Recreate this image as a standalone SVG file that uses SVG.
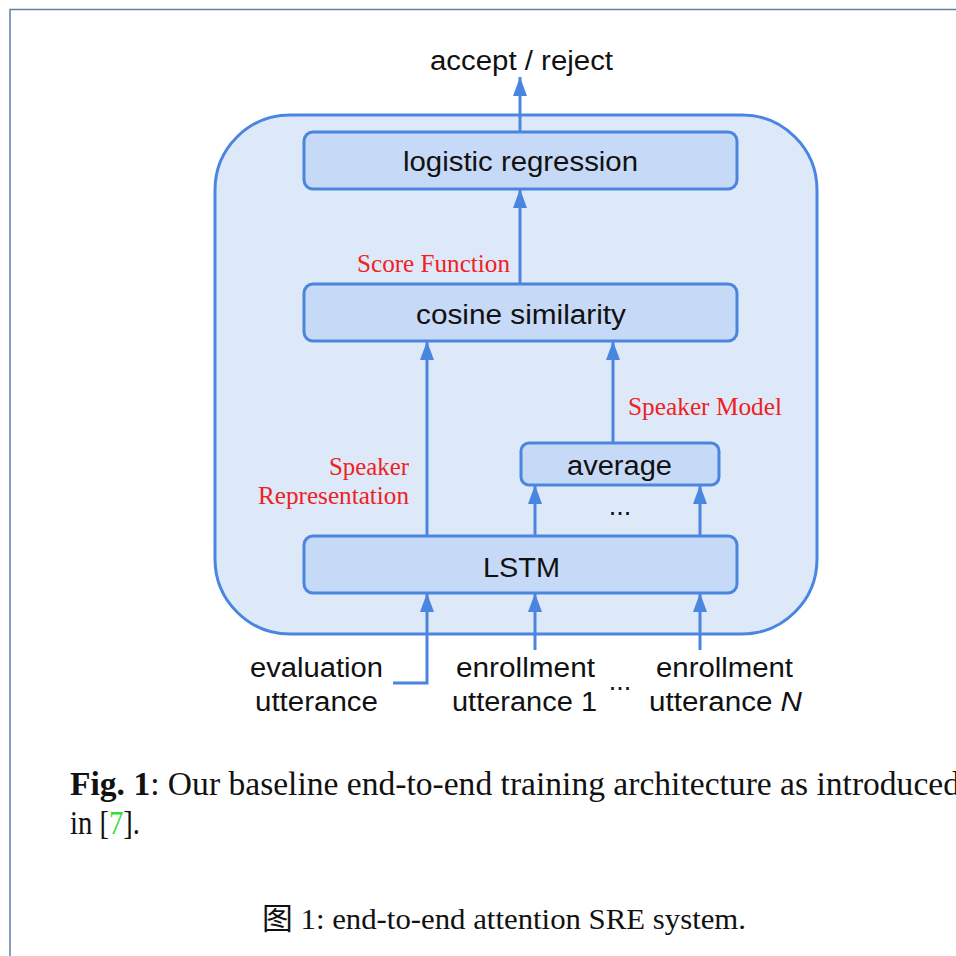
<svg xmlns="http://www.w3.org/2000/svg" width="956" height="956" viewBox="0 0 956 956">
<defs>
<style>
.box{fill:#c6d9f6;stroke:#4a86e0;stroke-width:3}
.lbl{font-family:"Liberation Sans",Arial,sans-serif;font-size:27px;fill:#111;text-anchor:middle}
.red{font-family:"Liberation Serif","Times New Roman",serif;font-size:25px;fill:#ee2222}
.conn{stroke:#4a86e0;stroke-width:3;fill:none}
.cap{font-family:"Liberation Serif","Times New Roman",serif;font-size:34px;fill:#111}
</style>
<marker id="arr" markerUnits="userSpaceOnUse" markerWidth="19" markerHeight="14" refX="19" refY="7" orient="auto">
<path d="M0,0 L19,7 L0,14 z" fill="#4a86e0"/>
</marker>
</defs>
<rect width="956" height="956" fill="#ffffff"/>
<path d="M10,956 L10,9.5 L956,9.5" fill="none" stroke="#5f7fa6" stroke-width="1.5"/>
<g id="system">
<rect x="215" y="115" width="602" height="519" rx="75" fill="#dde8f9" stroke="#4a86e0" stroke-width="3"/>
</g>
<g id="connectors">
<line class="conn" x1="520" y1="132" x2="520" y2="77" marker-end="url(#arr)"/>
<line class="conn" x1="520" y1="284" x2="520" y2="189" marker-end="url(#arr)"/>
<line class="conn" x1="427" y1="536" x2="427" y2="341" marker-end="url(#arr)"/>
<line class="conn" x1="613" y1="443" x2="613" y2="341" marker-end="url(#arr)"/>
<line class="conn" x1="535" y1="536" x2="535" y2="485" marker-end="url(#arr)"/>
<line class="conn" x1="700" y1="536" x2="700" y2="485" marker-end="url(#arr)"/>
<polyline class="conn" points="393,683 427,683 427,593" marker-end="url(#arr)"/>
<line class="conn" x1="535" y1="650" x2="535" y2="593" marker-end="url(#arr)"/>
<line class="conn" x1="700" y1="650" x2="700" y2="593" marker-end="url(#arr)"/>
</g>
<g id="logistic">
<rect class="box" x="304" y="132" width="433" height="57" rx="9"/>
<text class="lbl" x="520.5" y="171" textLength="235" lengthAdjust="spacingAndGlyphs">logistic regression</text>
</g>
<g id="cosine">
<rect class="box" x="304" y="284" width="433" height="57" rx="9"/>
<text class="lbl" x="521" y="324" textLength="210" lengthAdjust="spacingAndGlyphs">cosine similarity</text>
</g>
<g id="average">
<rect class="box" x="521" y="443" width="198" height="42" rx="8"/>
<text class="lbl" x="619.5" y="475" textLength="105" lengthAdjust="spacingAndGlyphs">average</text>
</g>
<g id="lstm">
<rect class="box" x="304" y="536" width="433" height="57" rx="9"/>
<text class="lbl" x="521.5" y="577" textLength="77" lengthAdjust="spacingAndGlyphs">LSTM</text>
</g>
<g id="labels">
<text class="lbl" x="521.5" y="70" textLength="183" lengthAdjust="spacingAndGlyphs">accept / reject</text>
<text class="red" x="357" y="272" textLength="153" lengthAdjust="spacingAndGlyphs">Score Function</text>
<text class="red" x="628" y="415" textLength="154" lengthAdjust="spacingAndGlyphs">Speaker Model</text>
<text class="red" x="409" y="475" text-anchor="end" textLength="80" lengthAdjust="spacingAndGlyphs">Speaker</text>
<text class="red" x="409" y="504" text-anchor="end" textLength="151" lengthAdjust="spacingAndGlyphs">Representation</text>
<text class="lbl" x="620" y="515">...</text>
<text class="lbl" x="316.5" y="677" textLength="133" lengthAdjust="spacingAndGlyphs">evaluation</text>
<text class="lbl" x="316.5" y="711" textLength="123" lengthAdjust="spacingAndGlyphs">utterance</text>
<text class="lbl" x="525.5" y="677" textLength="139" lengthAdjust="spacingAndGlyphs">enrollment</text>
<text class="lbl" x="524.5" y="711" textLength="145" lengthAdjust="spacingAndGlyphs">utterance 1</text>
<text class="lbl" x="620" y="690">...</text>
<text class="lbl" x="724.5" y="677" textLength="137" lengthAdjust="spacingAndGlyphs">enrollment</text>
<text class="lbl" x="725.5" y="711" textLength="153" lengthAdjust="spacingAndGlyphs">utterance <tspan font-style="italic">N</tspan></text>
</g>
<g id="caption">
<text class="cap" x="70" y="795" textLength="890" lengthAdjust="spacingAndGlyphs"><tspan font-weight="bold">Fig. 1</tspan>: Our baseline end-to-end training architecture as introduced</text>
<text class="cap" x="70" y="834" textLength="70" lengthAdjust="spacingAndGlyphs">in [<tspan fill="#33dd33">7</tspan>].</text>
<text x="504" y="929" text-anchor="middle" font-family="'Liberation Serif','Noto Sans CJK SC',serif" font-size="30" fill="#111" textLength="484" lengthAdjust="spacingAndGlyphs">图 1: end-to-end attention SRE system.</text>
</g>
</svg>
